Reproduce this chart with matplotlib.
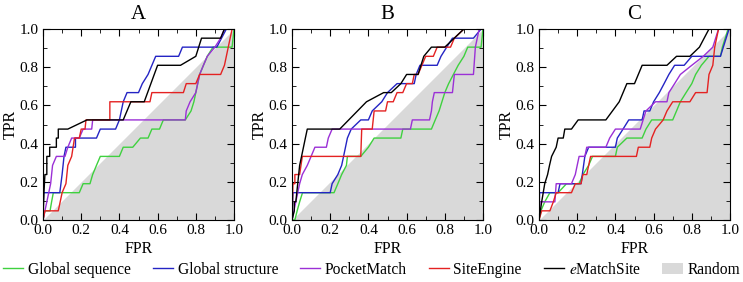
import matplotlib
matplotlib.use("Agg")
import matplotlib.pyplot as plt
from matplotlib.lines import Line2D
from matplotlib.patches import Patch

plt.rcParams['font.family'] = ['Liberation Serif', 'DejaVu Serif']
plt.rcParams['mathtext.fontset'] = 'stix'

panels = ['A', 'B', 'C']
methods = ['Global sequence', 'Global structure', 'PocketMatch', 'SiteEngine', '$e$MatchSite']
colors = ['#3fd13f', '#2424c4', '#9b30d6', '#e42222', '#000000']

# ---- panel A ----
A_seq_fpr = [0, 0.01, 0.037, 0.045, 0.054, 0.19, 0.21, 0.246, 0.26, 0.28, 0.30, 0.40, 0.42, 0.47, 0.51, 0.55, 0.57, 0.61, 0.63, 0.745, 0.775, 0.79, 0.80, 0.82, 0.84, 0.86, 0.89, 0.99, 1.0]
A_seq_tpr = [0, 0.048, 0.048, 0.095, 0.143, 0.143, 0.190, 0.190, 0.238, 0.286, 0.333, 0.333, 0.381, 0.381, 0.429, 0.429, 0.476, 0.476, 0.524, 0.524, 0.571, 0.619, 0.667, 0.762, 0.810, 0.857, 0.905, 0.905, 1.0]
A_str_fpr = [0, 0.003, 0.088, 0.10, 0.11, 0.12, 0.17, 0.17, 0.28, 0.30, 0.38, 0.40, 0.42, 0.44, 0.50, 0.52, 0.55, 0.59, 0.71, 0.73, 0.91, 0.96, 1.0]
A_str_tpr = [0, 0.143, 0.143, 0.238, 0.333, 0.381, 0.381, 0.429, 0.429, 0.476, 0.476, 0.524, 0.619, 0.667, 0.667, 0.714, 0.762, 0.857, 0.857, 0.905, 0.905, 1.0, 1.0]
A_pm_fpr = [0, 0.01, 0.02, 0.04, 0.05, 0.07, 0.115, 0.13, 0.15, 0.19, 0.21, 0.255, 0.26, 0.745, 0.75, 0.77, 0.80, 0.82, 0.84, 0.86, 0.90, 0.93, 0.95, 1.0]
A_pm_tpr = [0, 0.048, 0.095, 0.190, 0.286, 0.333, 0.333, 0.381, 0.429, 0.429, 0.476, 0.476, 0.524, 0.524, 0.571, 0.619, 0.667, 0.762, 0.810, 0.857, 0.905, 0.952, 1.0, 1.0]
A_se_fpr = [0, 0.01, 0.08, 0.09, 0.10, 0.12, 0.13, 0.15, 0.165, 0.19, 0.20, 0.22, 0.225, 0.35, 0.35, 0.56, 0.57, 0.735, 0.75, 0.80, 0.82, 0.93, 0.95, 0.97, 0.99, 1.0]
A_se_tpr = [0, 0.048, 0.048, 0.095, 0.143, 0.190, 0.286, 0.333, 0.429, 0.429, 0.476, 0.476, 0.524, 0.524, 0.619, 0.619, 0.667, 0.667, 0.714, 0.714, 0.762, 0.762, 0.810, 0.905, 1.0, 1.0]
A_ems_fpr = [0, 0.005, 0.01, 0.02, 0.02, 0.035, 0.035, 0.07, 0.07, 0.08, 0.08, 0.13, 0.23, 0.42, 0.46, 0.53, 0.60, 0.72, 0.80, 0.83, 0.93, 0.95, 1.0]
A_ems_tpr = [0, 0.143, 0.238, 0.238, 0.333, 0.333, 0.381, 0.381, 0.429, 0.429, 0.476, 0.476, 0.524, 0.524, 0.619, 0.619, 0.810, 0.810, 0.857, 0.952, 0.952, 1.0, 1.0]

# ---- panel B ----
B_seq_fpr = [0, 0.015, 0.027, 0.04, 0.055, 0.22, 0.24, 0.26, 0.285, 0.29, 0.36, 0.40, 0.43, 0.57, 0.58, 0.73, 0.75, 0.77, 0.80, 0.82, 0.87, 0.90, 0.92, 0.99, 1.0]
B_seq_tpr = [0, 0.0, 0.048, 0.095, 0.143, 0.143, 0.190, 0.238, 0.286, 0.333, 0.333, 0.381, 0.429, 0.429, 0.476, 0.476, 0.524, 0.571, 0.667, 0.714, 0.810, 0.857, 0.905, 0.905, 1.0]
B_str_fpr = [0, 0.005, 0.20, 0.21, 0.24, 0.26, 0.27, 0.29, 0.31, 0.36, 0.40, 0.42, 0.47, 0.50, 0.55, 0.64, 0.65, 0.67, 0.76, 0.78, 0.81, 0.84, 0.95, 0.99, 1.0]
B_str_tpr = [0, 0.143, 0.143, 0.190, 0.238, 0.286, 0.333, 0.429, 0.476, 0.524, 0.524, 0.571, 0.619, 0.667, 0.714, 0.714, 0.762, 0.810, 0.810, 0.857, 0.905, 0.952, 0.952, 1.0, 1.0]
B_pm_fpr = [0, 0.01, 0.02, 0.03, 0.04, 0.054, 0.08, 0.10, 0.12, 0.18, 0.19, 0.21, 0.62, 0.63, 0.72, 0.73, 0.735, 0.745, 0.84, 0.85, 0.95, 0.96, 0.98, 1.0]
B_pm_tpr = [0, 0.048, 0.095, 0.143, 0.190, 0.238, 0.286, 0.333, 0.381, 0.381, 0.429, 0.476, 0.476, 0.524, 0.524, 0.571, 0.619, 0.667, 0.667, 0.762, 0.762, 0.905, 1.0, 1.0]
B_se_fpr = [0, 0.005, 0.015, 0.015, 0.04, 0.054, 0.36, 0.365, 0.42, 0.43, 0.49, 0.50, 0.53, 0.55, 0.58, 0.60, 0.63, 0.64, 0.66, 0.68, 0.70, 0.74, 0.76, 0.83, 0.85, 0.90, 1.0]
B_se_tpr = [0, 0.190, 0.190, 0.238, 0.238, 0.333, 0.333, 0.476, 0.476, 0.571, 0.571, 0.619, 0.619, 0.667, 0.667, 0.714, 0.714, 0.762, 0.762, 0.810, 0.857, 0.857, 0.905, 0.905, 0.952, 1.0, 1.0]
B_ems_fpr = [0, 0.012, 0.012, 0.02, 0.025, 0.04, 0.05, 0.06, 0.07, 0.08, 0.25, 0.39, 0.48, 0.52, 0.57, 0.60, 0.66, 0.69, 0.73, 0.80, 0.90, 1.0]
B_ems_tpr = [0, 0.048, 0.095, 0.095, 0.143, 0.286, 0.333, 0.381, 0.429, 0.476, 0.476, 0.619, 0.667, 0.667, 0.714, 0.762, 0.762, 0.857, 0.905, 0.905, 1.0, 1.0]

# ---- panel C ----
C_seq_fpr = [0, 0.01, 0.03, 0.057, 0.10, 0.144, 0.21, 0.23, 0.26, 0.28, 0.40, 0.41, 0.46, 0.54, 0.56, 0.59, 0.70, 0.72, 0.74, 0.77, 0.80, 0.82, 0.85, 0.89, 0.95, 0.96, 0.99, 1.0]
C_seq_tpr = [0, 0.048, 0.095, 0.143, 0.143, 0.190, 0.190, 0.238, 0.286, 0.333, 0.333, 0.381, 0.429, 0.429, 0.476, 0.524, 0.524, 0.571, 0.619, 0.667, 0.714, 0.762, 0.810, 0.857, 0.857, 0.905, 1.0, 1.0]
C_str_fpr = [0, 0.003, 0.10, 0.11, 0.22, 0.24, 0.26, 0.40, 0.41, 0.44, 0.47, 0.54, 0.55, 0.58, 0.60, 0.63, 0.655, 0.68, 0.71, 0.76, 0.80, 0.95, 0.965, 0.995, 1.0]
C_str_tpr = [0, 0.143, 0.143, 0.190, 0.190, 0.333, 0.381, 0.381, 0.429, 0.476, 0.524, 0.524, 0.571, 0.571, 0.619, 0.667, 0.714, 0.762, 0.810, 0.810, 0.857, 0.857, 0.905, 1.0, 1.0]
C_pm_fpr = [0, 0.005, 0.083, 0.09, 0.17, 0.19, 0.20, 0.21, 0.24, 0.25, 0.35, 0.37, 0.40, 0.53, 0.545, 0.56, 0.61, 0.67, 0.68, 0.71, 0.74, 0.80, 0.86, 0.91, 0.94, 1.0]
C_pm_tpr = [0, 0.095, 0.095, 0.190, 0.190, 0.238, 0.286, 0.333, 0.333, 0.381, 0.381, 0.429, 0.476, 0.476, 0.524, 0.571, 0.619, 0.619, 0.667, 0.714, 0.762, 0.810, 0.857, 0.905, 1.0, 1.0]
C_se_fpr = [0, 0.014, 0.057, 0.075, 0.09, 0.17, 0.19, 0.22, 0.23, 0.25, 0.26, 0.27, 0.51, 0.52, 0.58, 0.59, 0.61, 0.65, 0.67, 0.70, 0.79, 0.82, 0.88, 0.89, 0.91, 0.92, 0.94, 1.0]
C_se_tpr = [0, 0.048, 0.048, 0.095, 0.143, 0.143, 0.190, 0.190, 0.238, 0.238, 0.286, 0.333, 0.333, 0.381, 0.381, 0.429, 0.476, 0.524, 0.571, 0.619, 0.619, 0.667, 0.667, 0.762, 0.810, 0.905, 1.0, 1.0]
C_ems_fpr = [0, 0.014, 0.03, 0.045, 0.055, 0.066, 0.09, 0.10, 0.127, 0.135, 0.17, 0.205, 0.35, 0.42, 0.46, 0.50, 0.54, 0.67, 0.72, 0.79, 0.84, 0.89, 1.0]
C_ems_tpr = [0, 0.095, 0.190, 0.238, 0.286, 0.333, 0.381, 0.429, 0.429, 0.476, 0.476, 0.524, 0.524, 0.619, 0.714, 0.714, 0.810, 0.810, 0.857, 0.857, 0.905, 1.0, 1.0]

curves = {
    'A': [(A_seq_fpr, A_seq_tpr), (A_str_fpr, A_str_tpr), (A_pm_fpr, A_pm_tpr), (A_se_fpr, A_se_tpr), (A_ems_fpr, A_ems_tpr)],
    'B': [(B_seq_fpr, B_seq_tpr), (B_str_fpr, B_str_tpr), (B_pm_fpr, B_pm_tpr), (B_se_fpr, B_se_tpr), (B_ems_fpr, B_ems_tpr)],
    'C': [(C_seq_fpr, C_seq_tpr), (C_str_fpr, C_str_tpr), (C_pm_fpr, C_pm_tpr), (C_se_fpr, C_se_tpr), (C_ems_fpr, C_ems_tpr)],
}

fig = plt.figure(figsize=(7.43, 2.82), dpi=100)
lefts = [43 / 743, 292 / 743, 539 / 743]
for k, p in enumerate(panels):
    ax = fig.add_axes([lefts[k], 62 / 282, 191 / 743, 191 / 282])
    # random classifier area
    ax.fill_between([0, 1], [0, 1], 0, color='#d9d9d9', lw=0, zorder=1)
    for (fx, ty), c in zip(curves[p], colors):
        ax.plot(fx, ty, color=c, lw=1.0, zorder=2)
    ax.set_xlim(0, 1)
    ax.set_ylim(0, 1)
    ax.set_xticks([0, 0.2, 0.4, 0.6, 0.8, 1.0])
    ax.set_yticks([0, 0.2, 0.4, 0.6, 0.8, 1.0])
    ax.set_xticks([0.1, 0.3, 0.5, 0.7, 0.9], minor=True)
    ax.set_yticks([0.1, 0.3, 0.5, 0.7, 0.9], minor=True)
    ax.tick_params(which='both', direction='in', top=True, right=True, labelsize=11, pad=3)
    ax.tick_params(which='major', length=5)
    ax.tick_params(which='minor', length=3)
    ax.set_xlabel('FPR', fontsize=11.5, labelpad=3)
    ax.set_ylabel('TPR', fontsize=11.5, labelpad=1)
    ax.set_title(p, fontsize=15, pad=7)

handles = [Line2D([0], [0], color=c, lw=1.0) for c in colors]
handles.append(Patch(facecolor='#d9d9d9', edgecolor='none'))
fig.legend(handles, methods + ['Random'], loc='lower center', bbox_to_anchor=(0.5, -0.035),
           ncol=6, frameon=False, fontsize=11.2, handlelength=1.3, handletextpad=0.3, columnspacing=1.4)

fig.savefig('out.png', dpi=100)
